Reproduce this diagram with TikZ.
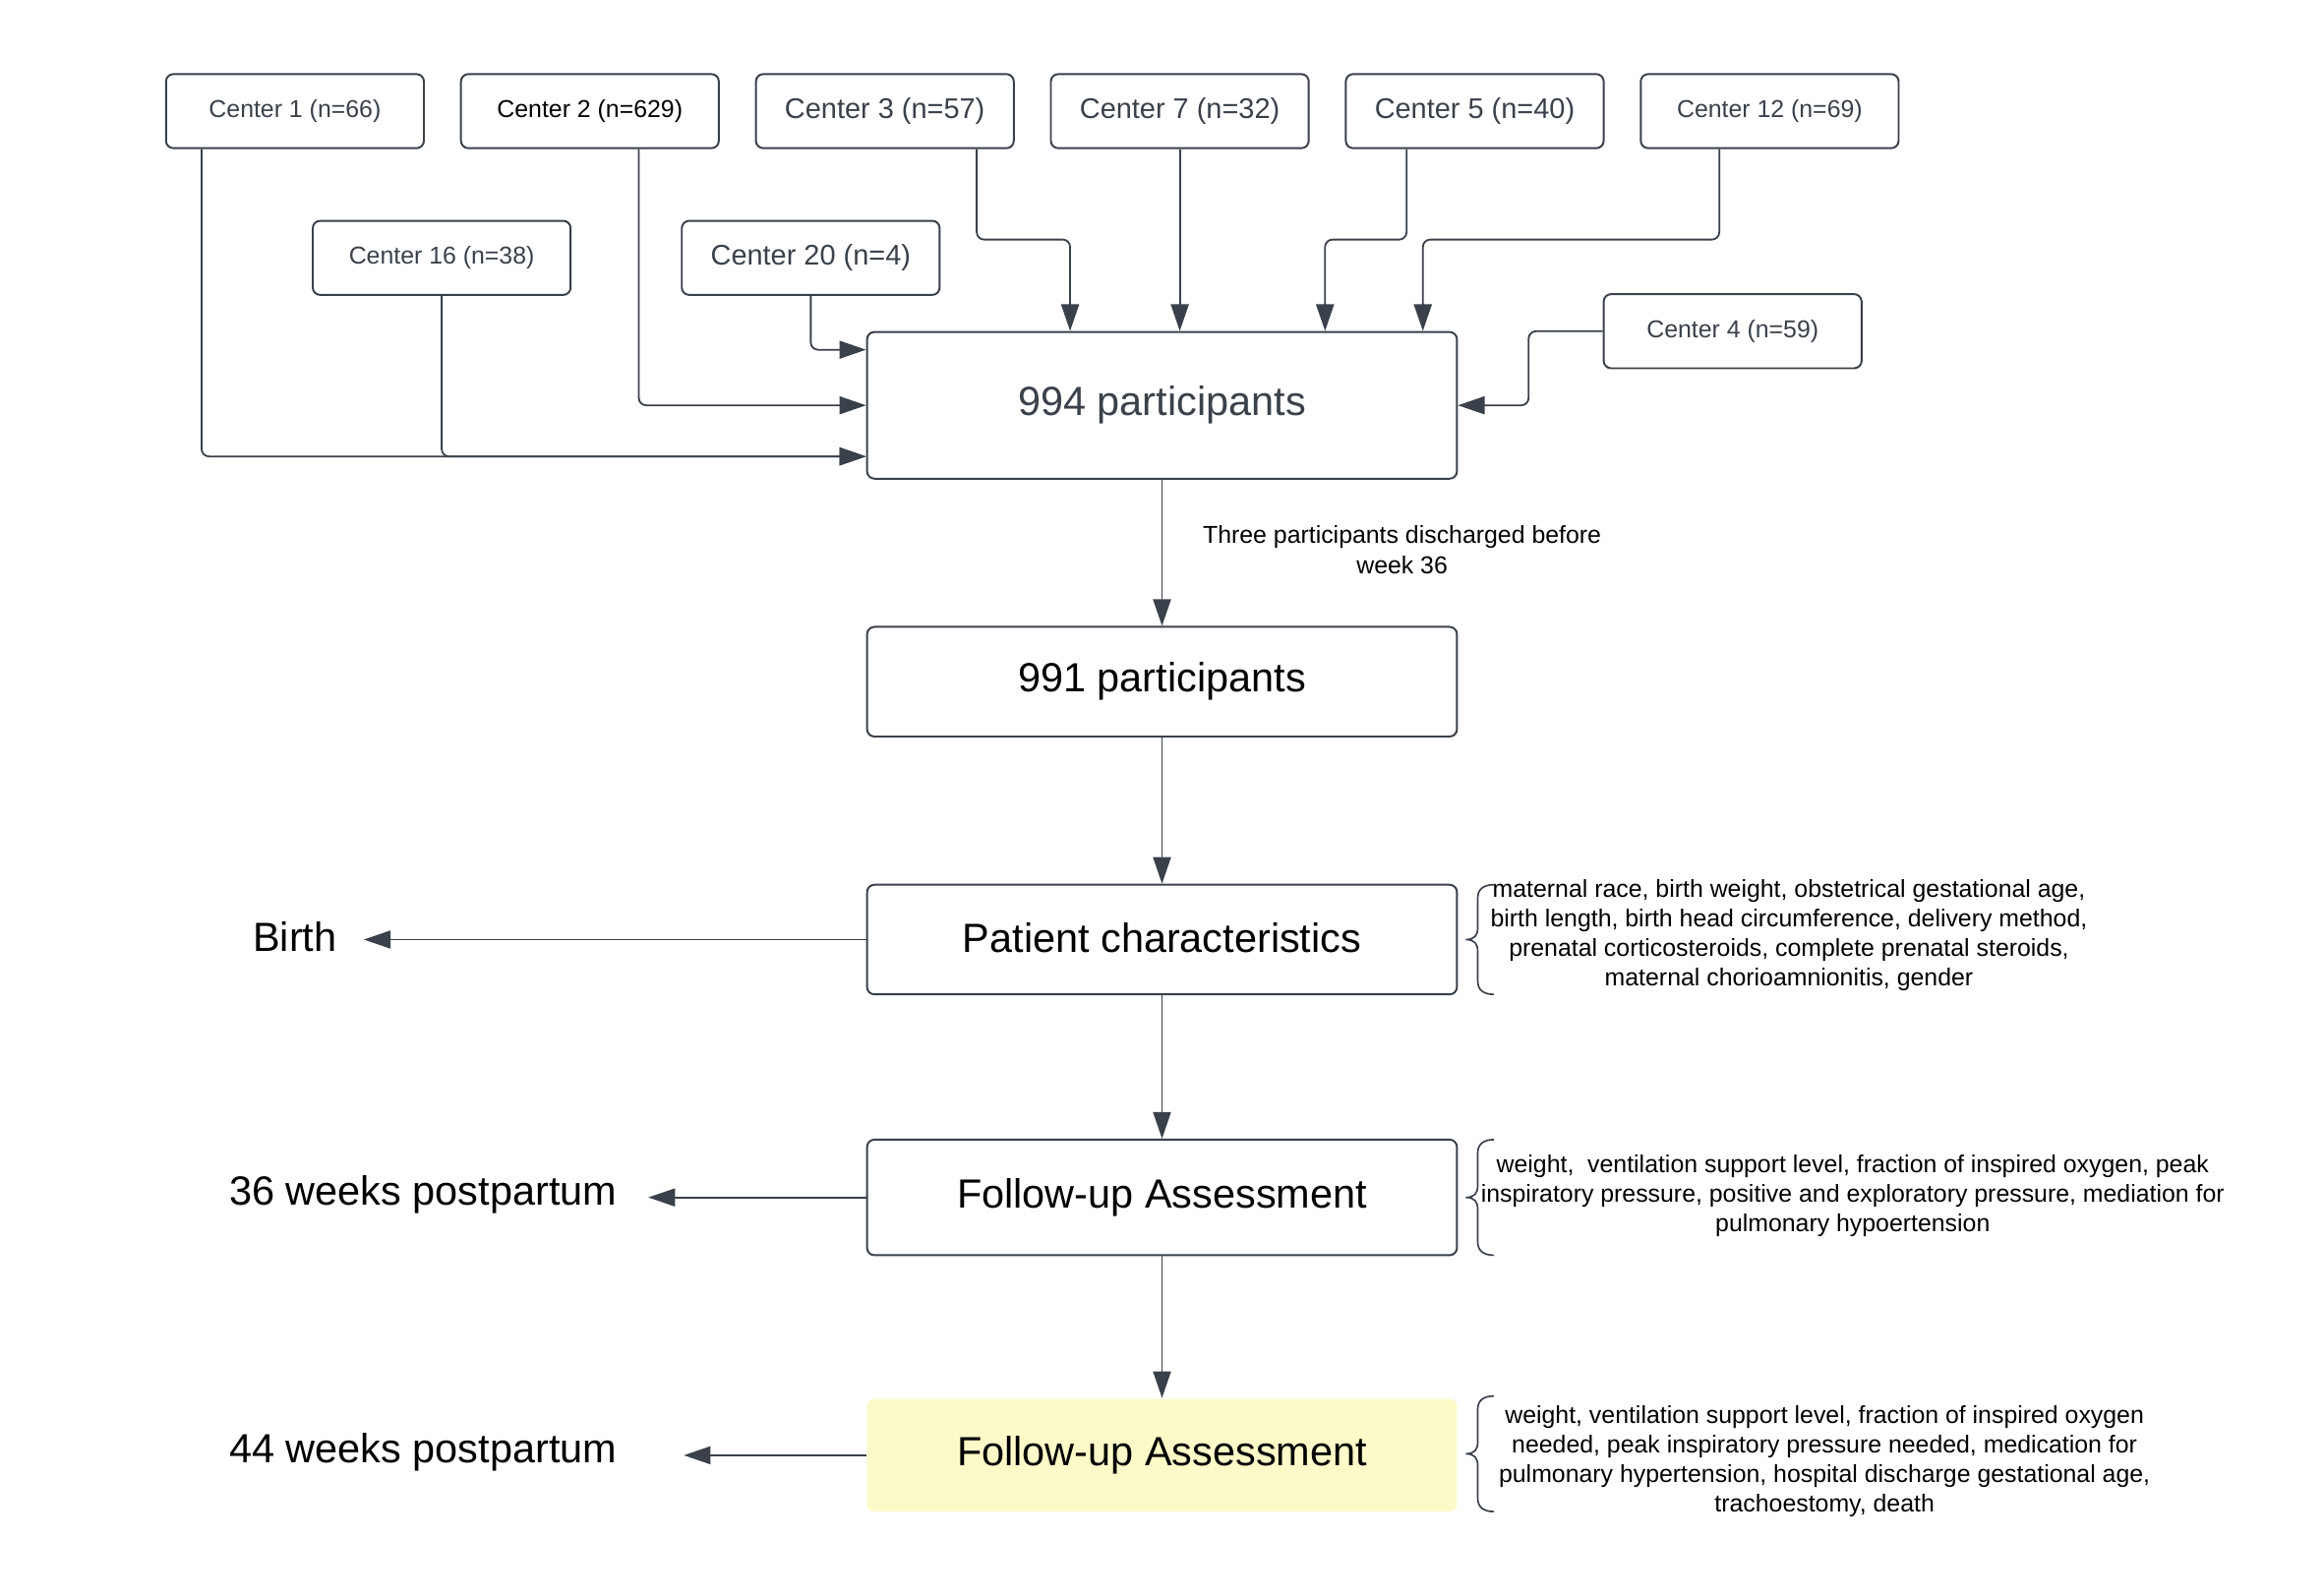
\documentclass[tikz,border=0pt]{standalone}
\usepackage{fontspec}
\setmainfont{Liberation Sans}
\usetikzlibrary{arrows.meta}
\definecolor{lc}{HTML}{3A414A}
\definecolor{yl}{HTML}{FCFAC8}
\begin{document}
\begin{tikzpicture}[x=1pt,y=-1pt,
 cbox/.style={draw=lc, line width=1.3pt, rounded corners=5pt, minimum width=174pt, minimum height=50pt, text=lc, font=\fontsize{16.5}{20}\selectfont, inner sep=0pt},
 cboxl/.style={cbox, font=\fontsize{19.2}{23}\selectfont},
 mbox/.style={draw=lc, line width=1.3pt, rounded corners=5pt, minimum width=398pt, font=\fontsize{27.5}{33}\selectfont, inner sep=0pt},
 conn/.style={draw=lc, line width=1.2pt, rounded corners=5pt, -{Triangle[length=18pt,width=12pt]}},
 ann/.style={align=center, font=\fontsize{16.5}{20}\selectfont, inner sep=0pt},
 side/.style={font=\fontsize{27.5}{33}\selectfont, inner sep=0pt},
 bracel/.style={draw=lc, line width=1.1pt}
]
\useasboundingbox[fill=white] (0,0) rectangle (1568,1076.3);

% center boxes
\node[cbox] (c1) at (199,75) {Center 1 (n=66)};
\node[cbox, text=black] (c2) at (398,75) {Center 2 (n=629)};
\node[cboxl] (c3) at (597,75) {Center 3 (n=57)};
\node[cboxl] (c7) at (796,75) {Center 7 (n=32)};
\node[cboxl] (c5) at (995,75) {Center 5 (n=40)};
\node[cbox] (c12) at (1194,75) {Center 12 (n=69)};
\node[cbox] (c16) at (298,174) {Center 16 (n=38)};
\node[cboxl] (c20) at (547,174) {Center 20 (n=4)};
\node[cbox] (c4) at (1169,223.5) {Center 4 (n=59)};

% main boxes
\node[mbox, minimum height=99pt, text=lc] (p994) at (784,273.5) {\raisebox{4.5pt}{994 participants}};
\node[mbox, minimum height=74pt] (p991) at (784,460) {\raisebox{4pt}{991 participants}};
\node[mbox, minimum height=74pt] (pc) at (784,634) {\raisebox{2pt}{Patient characteristics}};
\node[mbox, minimum height=78pt] (fu1) at (784,808) {\raisebox{2pt}{Follow-up Assessment}};
\node[mbox, draw=none, fill=yl, minimum height=76pt] (fu2) at (784,982) {\raisebox{2pt}{Follow-up Assessment}};

% side labels
\node[side] (birth) at (199,632) {Birth};
\node[side] (w36) at (285.5,806) {36 weeks postpartum};
\node[side] (w44) at (285.5,980) {44 weeks postpartum};

% connectors from centers
\draw[conn] ([xshift=-63pt]c1.south) |- ([yshift=-34.5pt]p994.west);
\draw[conn] (c16.south) |- ([yshift=-34.5pt]p994.west);
\draw[conn] ([xshift=33pt]c2.south) |- (p994.west);
\draw[conn] (c20.south) |- ([yshift=37.5pt]p994.west);
\draw[conn] ([xshift=62pt]c3.south) -- ++(0,61) -| ([xshift=-62pt]p994.north);
\draw[conn] (c7.south) -- (c7.south |- p994.north);
\draw[conn] ([xshift=-46pt]c5.south) -- ++(0,61) -| ([xshift=110pt]p994.north);
\draw[conn] ([xshift=-34pt]c12.south) -- ++(0,61) -| ([xshift=176pt]p994.north);
\draw[conn] (c4.west) -- ++(-50,0) |- (p994.east);

% vertical flow
\draw[conn] (p994.south) -- node[ann, right, xshift=27pt, yshift=2pt] (lbl) {Three participants discharged before\\week 36} (p991.north);
\draw[conn] (p991.south) -- (pc.north);
\draw[conn] (pc.south) -- (fu1.north);
\draw[conn] (fu1.south) -- (fu2.north);

% side arrows
\draw[conn] (pc.west) -- ([xshift=18pt]birth.east |- pc.west);
\draw[conn] (fu1.west) -- ([xshift=21pt]w36.east |- fu1.west);
\draw[conn] (fu2.west) -- ([xshift=45pt]w44.east |- fu2.west);

% annotations
\node[ann] (a1) at (1207,631) {maternal race, birth weight, obstetrical gestational age,\\birth length, birth head circumference, delivery method,\\prenatal corticosteroids, complete prenatal steroids,\\maternal chorioamnionitis, gender};
\node[ann] (a2) at (1250,807) {weight,\ \ ventilation support level, fraction of inspired oxygen, peak\\inspiratory pressure, positive and exploratory pressure, mediation for\\pulmonary hypoertension};
\node[ann] (a3) at (1231,986) {weight, ventilation support level, fraction of inspired oxygen\\needed, peak inspiratory pressure needed, medication for\\pulmonary hypertension, hospital discharge gestational age,\\trachoestomy, death};

% braces
\draw[bracel] (1008,597) .. controls (1001,597) and (997,600) .. (997,606) -- (997,626) .. controls (997,631) and (995,634) .. (989,634) .. controls (995,634) and (997,637) .. (997,642) -- (997,662) .. controls (997,668) and (1001,671) .. (1008,671);
\draw[bracel] (1008,769) .. controls (1001,769) and (997,772) .. (997,778) -- (997,800) .. controls (997,805) and (995,808) .. (989,808) .. controls (995,808) and (997,811) .. (997,816) -- (997,838) .. controls (997,844) and (1001,847) .. (1008,847);
\draw[bracel] (1008,942) .. controls (1001,942) and (997,945) .. (997,951) -- (997,973) .. controls (997,978) and (995,981) .. (989,981) .. controls (995,981) and (997,984) .. (997,989) -- (997,1011) .. controls (997,1017) and (1001,1020) .. (1008,1020);
\end{tikzpicture}
\end{document}
